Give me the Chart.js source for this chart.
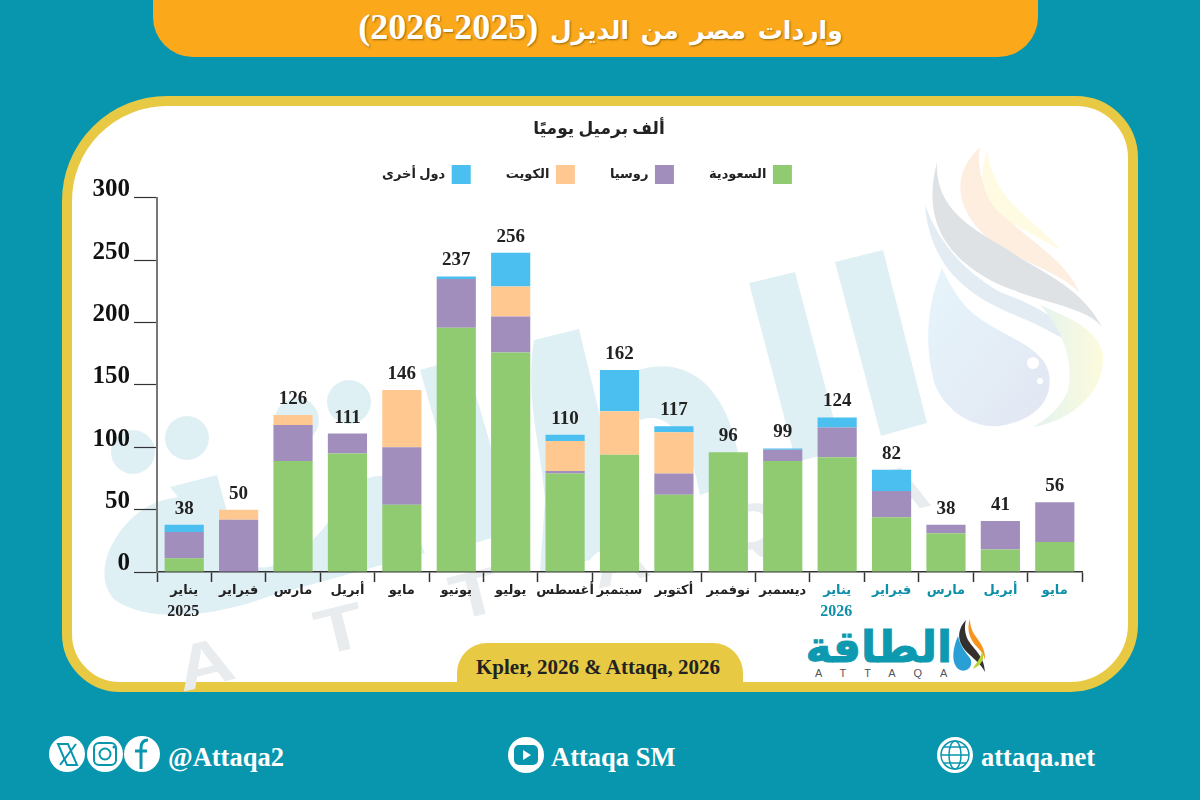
<!DOCTYPE html>
<html lang="ar">
<head>
<meta charset="utf-8">
<title>واردات مصر من الديزل</title>
<script src="https://cdn.jsdelivr.net/npm/chart.js@4"></script>
<style>
    html, body { margin:0; padding:0; }
    body { width:1200px; height:800px; background:#0896ae; position:relative; overflow:hidden; font-family:'Liberation Serif','DejaVu Sans',serif; }
    .banner { position:absolute; left:153px; top:-40px; width:885px; height:97px; background:#fba91b; border-radius:40px; color:#fff; text-align:center; }
    .banner .head { position:absolute; left:10px; right:0; top:47px; font:bold 25px/40px 'DejaVu Sans',sans-serif; word-spacing:3px; text-shadow:1px 1px 2px rgba(90,60,0,.6); direction:rtl; }
    .banner .years { font:bold 36px/40px 'Liberation Serif',serif; unicode-bidi:isolate; direction:ltr; word-spacing:0; }
    .card { position:absolute; left:62px; top:96px; width:1056px; height:576px; background:#fff; border:10px solid #e8c944; border-radius:105px 62px 68px 58px; }
    #mark { position:absolute; left:0; top:0; }
    #chart { position:absolute; left:0; top:0; }
    .tab { position:absolute; left:457px; top:643px; width:282px; padding-right:4px; height:44px; background:#e8c944; border-radius:30px 30px 0 0; color:#222; text-align:center; font:bold 21px/49px 'Liberation Serif',serif; }
    .logo { position:absolute; left:808px; top:616px; width:144px; text-align:center; color:#0d9ab0; font:bold 44px/62px 'DejaVu Sans',sans-serif; direction:rtl; white-space:nowrap; -webkit-text-stroke:1px #0d9ab0; }
    .logoSub { position:absolute; left:815px; top:667px; color:#555; font:11px/12px 'Liberation Sans',sans-serif; letter-spacing:18px; white-space:nowrap; }
    .foot { position:absolute; top:741px; color:#fff; font:bold 26.5px/32px 'Liberation Serif',serif; white-space:nowrap; }
</style>
</head>
<body>
<div class="banner"><div class="head">واردات مصر من الديزل <span class="years">(2026-2025)</span></div></div>
<div class="card"></div>

<!-- faint brand watermark behind the plot, plus footer icons -->
<svg id="mark" width="1200" height="800" viewBox="0 0 1200 800">
    <defs>
        <linearGradient id="dropFill" x1="0" y1="0" x2="1" y2="1">
            <stop offset="0" stop-color="#e6f5fb"/><stop offset="1" stop-color="#e2e6f2"/>
        </linearGradient>
        <linearGradient id="crescent" x1="0" y1="0" x2="1" y2="0">
            <stop offset="0" stop-color="#e2f3f0"/><stop offset="1" stop-color="#fdfbdc"/>
        </linearGradient>
    </defs>
    <g fill="#dff0f5" stroke="none">
        <circle cx="133" cy="452" r="22"/>
        <circle cx="187" cy="438" r="22"/>
        <circle cx="297" cy="420" r="22"/>
        <circle cx="349" cy="402" r="22"/>
        <path d="M170 487 L217 475 L236 545 C250 590 300 560 330 520 C345 495 365 465 395 480 L425 553 L270 596 C220 615 150 625 115 600 C95 580 105 545 130 520 C145 505 160 500 178 497 Z"/>
        <path d="M420 370 L465 357 L515 530 L470 545 Z"/>
        <path d="M534 340 L579 329 L625 520 C632 545 600 545 590 560 L540 572 L545 500 C540 440 525 400 534 340 Z"/>
        <path d="M625 375 C680 350 720 380 735 440 L745 480 L700 495 C690 440 670 410 640 420 Z"/>
        <path d="M749 283 L795 272 L842 450 L796 462 Z"/>
        <path d="M835 262 L883 250 L927 423 L881 436 Z"/>
    </g>
    <g fill="#e9ecee" font-family="'Liberation Sans',sans-serif" font-weight="bold" font-size="64" text-anchor="middle">
        <text transform="translate(210 685) rotate(-14) scale(1.25 1)">A</text>
        <text transform="translate(345 650) rotate(-14) scale(1.25 1)">T</text>
        <text transform="translate(480 615) rotate(-14) scale(1.25 1)">T</text>
        <text transform="translate(625 582) rotate(-14) scale(1.25 1)">A</text>
        <text transform="translate(757 548) rotate(-14) scale(1.25 1)">Q</text>
        <text transform="translate(905 512) rotate(-14) scale(1.25 1)">A</text>
    </g>
    <g stroke="none">
        <path d="M980 147 C950 175 955 210 990 240 C1025 265 1060 272 1080 293 C1062 255 1025 240 1005 215 C988 195 975 175 980 147 Z" fill="#fdeee0"/>
        <path d="M988 150 C975 180 985 205 1015 225 C1040 240 1055 245 1063 253 C1045 230 1020 215 1005 195 C995 180 988 165 988 150 Z" fill="#fffbe3"/>
        <path d="M937 162 C922 220 945 255 990 280 C1035 303 1085 305 1102 327 C1080 285 1040 272 1005 248 C965 225 935 205 937 162 Z" fill="#dfe2e4"/>
        <path d="M925 205 C930 265 965 295 1015 315 C1055 332 1085 350 1100 365 C1075 325 1035 305 1000 292 C965 272 940 245 925 205 Z" fill="#e3ecf3"/>
        <path d="M942 268 C925 310 925 350 935 385 C950 420 985 430 1005 425 C1040 418 1055 395 1048 370 C1040 345 1000 335 975 315 C960 303 950 285 942 268 Z" fill="url(#dropFill)"/>
        <path d="M1033 427 C1075 420 1105 390 1103 355 C1098 330 1075 320 1040 305 C1060 325 1075 360 1068 390 C1060 410 1045 420 1033 427 Z" fill="url(#crescent)"/>
        <circle cx="1033" cy="363" r="6" fill="#fff"/>
        <circle cx="1040" cy="381" r="3" fill="#fff"/>
    </g>

    <!-- small logo drop -->
    <g stroke="none">
        <path d="M966 620 C955 632 958 645 970 655 C975 660 981 664 985 672 C984 655 974 650 968 640 C965 634 964 627 966 620 Z" fill="#33302e"/>
        <path d="M970 619 C966 630 970 640 978 648 C982 652 984 656 985 660 C986 648 978 640 974 634 C971 629 970 624 970 619 Z" fill="#f7941d"/>
        <path d="M958 636 C952 650 951 665 960 670 C968 673 974 665 970 658 C965 652 960 645 958 636 Z" fill="#2a9fd6"/>
        <path d="M973 669 C982 665 985 658 982 652 C980 660 975 664 973 669 Z" fill="#b5d334"/>
    </g>

    <!-- social icons -->
    <g fill="#fff">
        <circle cx="67" cy="754" r="18"/><circle cx="105" cy="754" r="18"/><circle cx="142" cy="754" r="18"/>
        <circle cx="526" cy="755" r="18"/><circle cx="955" cy="755" r="18"/>
    </g>
    <g fill="none" stroke="#0896ae" stroke-width="2">
        <path d="M58 744 L68 744 L77 765 L67 765 Z"/>
        <path d="M76 744 L60 765"/>
        <rect x="94" y="743" width="22" height="22" rx="5"/>
        <circle cx="105" cy="754" r="5.5"/>
        <path d="M148 740 C142 740 141 744 141 748 L141 769 M135 751 L147 751" stroke-width="3"/>
        <circle cx="955" cy="755" r="14" stroke-width="1.5"/>
        <ellipse cx="955" cy="755" rx="6" ry="14" stroke-width="1.5"/>
        <path d="M941 755 L969 755 M944 747 L966 747 M944 763 L966 763" stroke-width="1.5"/>
    </g>
    <rect x="514" y="745" width="24" height="20" rx="5" fill="#0896ae"/>
    <path d="M523 750 L523 760 L531 755 Z" fill="#fff"/>
    <circle cx="114" cy="747" r="1.5" fill="#0896ae"/>
</svg>

<div class="tab">Kpler, 2026 &amp; Attaqa, 2026</div>
<div class="logo">الطاقة</div>
<div class="logoSub">ATTAQA</div>
<div class="foot" style="left:168px">@Attaqa2</div>
<div class="foot" style="left:551px">Attaqa SM</div>
<div class="foot" style="left:981px">attaqa.net</div>

<canvas id="chart" width="1200" height="800"></canvas>

<script>
// thousand barrels per day, by supplier
var months = ['يناير','فبراير','مارس','أبريل','مايو','يونيو','يوليو','أغسطس','سبتمبر','أكتوبر','نوفمبر','ديسمبر','يناير','فبراير','مارس','أبريل','مايو'];
var saudi  = [11, 0, 89, 95, 54, 196, 176, 79, 94, 62, 96, 89, 92, 44, 31, 18, 24];
var russia = [21, 42, 29, 16, 46, 39, 29, 2, 0, 17, 0, 9, 24, 21, 7, 23, 32];
var kuwait = [0, 8, 8, 0, 46, 0, 24, 24, 35, 33, 0, 0, 0, 0, 0, 0, 0];
var others = [6, 0, 0, 0, 0, 2, 27, 5, 33, 5, 0, 1, 8, 17, 0, 0, 0];
var totals = [38, 50, 126, 111, 146, 237, 256, 110, 162, 117, 96, 99, 124, 82, 38, 41, 56];
var seriesNames = ['السعودية','روسيا','الكويت','دول أخرى'];
var yearStarts = [0, 12];
var yearNames = ['2025', '2026'];

var serif = "'Liberation Serif','DejaVu Sans',serif";
var darkText = '#222';
var tealText = '#0d8fa8';

function stack(name, values, color){
    return { label:name, data:values, backgroundColor:color, borderWidth:0, barPercentage:0.72, categoryPercentage:1 };
}

// totals above each stack, year under the first month of each year
var extraText = {
    id:'extraText',
    afterDraw: function(chart){
        var ctx = chart.ctx;
        var x = chart.scales.x, y = chart.scales.y;
        ctx.save();
        ctx.textAlign = 'center';
        ctx.textBaseline = 'middle';
        ctx.font = 'bold 19px ' + serif;
        ctx.fillStyle = darkText;
        totals.forEach(function(t, i){
            ctx.fillText(t, x.getPixelForValue(i), y.getPixelForValue(t) - 16);
        });
        ctx.font = 'bold 16px ' + serif;
        yearStarts.forEach(function(m, i){
            ctx.fillStyle = i ? tealText : darkText;
            ctx.fillText(yearNames[i], x.getPixelForValue(m) - 1, y.bottom + 40);
        });
        ctx.restore();
    }
};

// title centred on the card, legend pulled up a little
var nudgeBoxes = {
    id:'nudgeBoxes',
    afterLayout: function(chart){
        chart.titleBlock.left += 13;
        chart.titleBlock.right += 13;
        chart.legend.left += 1;
        chart.legend.right += 1;
        chart.legend.top -= 4;
        chart.legend.bottom -= 4;
    }
};

new Chart(document.getElementById('chart'), {
    type:'bar',
    data:{
        labels:months,
        datasets:[
            stack(seriesNames[0], saudi, '#90cb72'),
            stack(seriesNames[1], russia, '#a18ebc'),
            stack(seriesNames[2], kuwait, '#ffc891'),
            stack(seriesNames[3], others, '#4abff0')
        ]
    },
    options:{
        responsive:false,
        animation:false,
        devicePixelRatio:1,
        layout:{ padding:{ top:119, left:90, right:118, bottom:168 } },
        plugins:{
            title:{
                display:true,
                text:'ألف برميل يوميًا',
                color:darkText,
                font:{ family:serif, size:17, weight:'bold', lineHeight:1.27 },
                padding:{ top:0, bottom:-6.6 }
            },
            legend:{
                rtl:true,
                textDirection:'rtl',
                labels:{
                    boxWidth:19, boxHeight:19, padding:35,
                    color:darkText,
                    font:{ family:serif, size:13, weight:'bold' }
                }
            },
            tooltip:{ enabled:false }
        },
        scales:{
            x:{
                stacked:true,
                afterFit:function(s){ s.height = 60; },
                border:{ color:'#333', width:1.5 },
                grid:{ drawOnChartArea:false, offset:true, tickLength:10, tickColor:'#333', tickWidth:1.5 },
                ticks:{
                    autoSkip:false, maxRotation:0, minRotation:0, padding:1,
                    color:function(c){ return c.index >= 12 ? tealText : darkText; },
                    font:{ family:serif, size:13, weight:'bold' }
                }
            },
            y:{
                stacked:true,
                min:0, max:300,
                afterFit:function(s){ s.width = 67; },
                border:{ color:'#777', width:2 },
                grid:{ drawOnChartArea:false, tickLength:23, tickColor:'#333', tickWidth:1.2 },
                ticks:{
                    stepSize:50, padding:4, labelOffset:-8,
                    color:'#111',
                    font:{ family:serif, size:25, weight:'bold' }
                }
            }
        }
    },
    plugins:[extraText, nudgeBoxes]
});
</script>
</body>
</html>
